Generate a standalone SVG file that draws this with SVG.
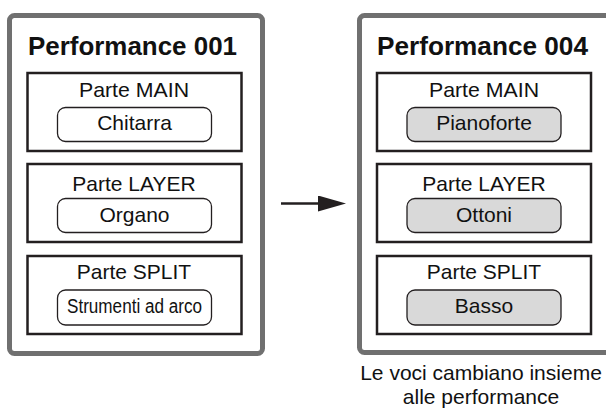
<svg xmlns="http://www.w3.org/2000/svg" width="606" height="409" viewBox="0 0 606 409">
<defs>
<style>
.outer{fill:#fff;stroke:#707070;stroke-width:5}
.part{fill:#fff;stroke:#231f20;stroke-width:2.5}
.pill{fill:#fff;stroke:#231f20;stroke-width:1.3}
.pill2{fill:#d9d9d9;stroke:#231f20;stroke-width:1.3}
text{font-family:"Liberation Sans",Arial,sans-serif;fill:#111;text-anchor:middle}
.title{font-size:25px;font-weight:bold}
.lbl{font-size:21px}
.voice{font-size:21px}
.cap{font-size:21px}
</style>
<marker id="ah" markerWidth="12" markerHeight="7" refX="0" refY="3.2" orient="auto" markerUnits="strokeWidth">
<path d="M0,0 L11.2,3.2 L0,6.4 Z" fill="#231f20"/>
</marker>
</defs>
<rect width="606" height="409" fill="#fff"/>
<g id="perf001">
<rect class="outer" x="9.5" y="15.5" width="253" height="338" rx="5"/>
<text class="title" x="132.5" y="55" textLength="209" lengthAdjust="spacingAndGlyphs">Performance 001</text>
<g id="p1-main">
<rect class="part" x="27.5" y="73" width="214" height="78"/>
<text class="lbl" x="134" y="97" textLength="110" lengthAdjust="spacingAndGlyphs">Parte MAIN</text>
<rect class="pill" x="57.5" y="107.5" width="154" height="34" rx="8"/>
<text class="voice" x="134.5" y="130">Chitarra</text>
</g>
<g id="p1-layer">
<rect class="part" x="27.5" y="164" width="214" height="78"/>
<text class="lbl" x="134" y="191">Parte LAYER</text>
<rect class="pill" x="57.5" y="198.5" width="154" height="34" rx="8"/>
<text class="voice" x="134.5" y="222">Organo</text>
</g>
<g id="p1-split">
<rect class="part" x="27.5" y="256" width="214" height="78"/>
<text class="lbl" x="134" y="279">Parte SPLIT</text>
<rect class="pill" x="57.5" y="290" width="154" height="35" rx="8"/>
<text class="voice" x="134.5" y="313" style="font-size:20px" textLength="135" lengthAdjust="spacingAndGlyphs">Strumenti ad arco</text>
</g>
</g>
<g id="perf004">
<rect class="outer" x="359.5" y="15.5" width="253" height="337" rx="5"/>
<text class="title" x="482.5" y="55" textLength="211" lengthAdjust="spacingAndGlyphs">Performance 004</text>
<g id="p4-main">
<rect class="part" x="377" y="73" width="214" height="78"/>
<text class="lbl" x="484" y="97" textLength="110" lengthAdjust="spacingAndGlyphs">Parte MAIN</text>
<rect class="pill2" x="407" y="107.5" width="154" height="34" rx="8"/>
<text class="voice" x="484" y="130">Pianoforte</text>
</g>
<g id="p4-layer">
<rect class="part" x="377" y="164" width="214" height="78"/>
<text class="lbl" x="484" y="191">Parte LAYER</text>
<rect class="pill2" x="407" y="198.5" width="154" height="34" rx="8"/>
<text class="voice" x="484" y="222">Ottoni</text>
</g>
<g id="p4-split">
<rect class="part" x="377" y="256" width="214" height="78"/>
<text class="lbl" x="484" y="279">Parte SPLIT</text>
<rect class="pill2" x="407" y="290" width="154" height="35" rx="8"/>
<text class="voice" x="484" y="313">Basso</text>
</g>
</g>
<g id="caption">
<text class="cap" x="481" y="380">Le voci cambiano insieme</text>
<text class="cap" x="481" y="404">alle performance</text>
</g>
<g id="connectors">
<line x1="281" y1="203.5" x2="318" y2="203.5" stroke="#231f20" stroke-width="2.5" marker-end="url(#ah)"/>
</g>
</svg>
